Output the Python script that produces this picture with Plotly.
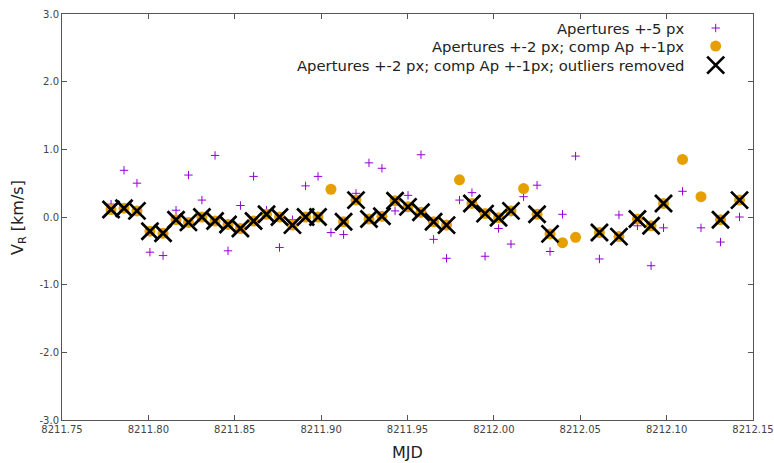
import plotly.graph_objects as go

# Observation times (MJD)
mjd = [8211.7784, 8211.7859, 8211.7934, 8211.8009, 8211.8085, 8211.8160, 8211.8232,
       8211.8310, 8211.8386, 8211.8461, 8211.8533, 8211.8609, 8211.8684, 8211.8759,
       8211.8834, 8211.8910, 8211.8982, 8211.9057, 8211.9130, 8211.9202, 8211.9277,
       8211.9352, 8211.9428, 8211.9503, 8211.9578, 8211.9651, 8211.9726, 8211.9801,
       8211.9873, 8211.9949, 8212.0027, 8212.0099, 8212.0172, 8212.0250, 8212.0325,
       8212.0397, 8212.0473, 8212.0611, 8212.0724, 8212.0831, 8212.0910, 8212.0982,
       8212.1092, 8212.1199, 8212.1312, 8212.1422]

# Apertures +-5 px
v_ap5 = [0.19, 0.69, 0.50, -0.52, -0.57, 0.10, 0.62, 0.25, 0.91, -0.50,
         0.17, 0.60, 0.10, -0.45, -0.04, 0.46, 0.60, -0.23, -0.26, 0.35,
         0.80, 0.72, 0.09, 0.32, 0.92, -0.33, -0.61, 0.25, 0.36, -0.58,
         -0.17, -0.40, 0.30, 0.47, -0.51, 0.04, 0.90, -0.62, 0.03, -0.13,
         -0.72, -0.16, 0.38, -0.16, -0.37, 0.00]

# Apertures +-2 px; comp Ap +-1px
v_ap2 = [0.11, 0.13, 0.09, -0.21, -0.24, -0.04, -0.08, 0.00, -0.06, -0.11,
         -0.17, -0.06, 0.04, 0.00, -0.12, 0.00, 0.00, 0.41, -0.07, 0.25,
         -0.03, 0.01, 0.24, 0.15, 0.07, -0.07, -0.12, 0.55, 0.20, 0.05,
         -0.01, 0.09, 0.42, 0.04, -0.25, -0.38, -0.30, -0.23, -0.29, -0.03,
         -0.13, 0.20, 0.85, 0.30, -0.04, 0.25]

# indices of outliers removed in the third series
outlier_idx = [17, 27, 32, 35, 36, 42, 43]

mjd_clean = [t for i, t in enumerate(mjd) if i not in outlier_idx]
v_clean = [v for i, v in enumerate(v_ap2) if i not in outlier_idx]

legend_names = ["Apertures +-5 px",
                "Apertures +-2 px; comp Ap +-1px",
                "Apertures +-2 px; comp Ap +-1px; outliers removed"]

x_ticks = [8211.75, 8211.80, 8211.85, 8211.90, 8211.95, 8212.00, 8212.05, 8212.10, 8212.15]
y_ticks = [-3.0, -2.0, -1.0, 0.0, 1.0, 2.0, 3.0]

PURPLE = "#9400d3"
GOLD = "#e69f00"
FONT = "DejaVu Sans"

sty = [
    dict(symbol="cross-thin", size=6, color=PURPLE, line=dict(color=PURPLE, width=1)),
    dict(symbol="circle", size=11, color=GOLD, line=dict(width=0)),
    dict(symbol="x-thin", size=17, color="black", line=dict(color="black", width=2.7)),
]

fig = go.Figure()
fig.add_trace(go.Scatter(x=mjd, y=v_ap5, mode="markers", marker=sty[0], name=legend_names[0]))
fig.add_trace(go.Scatter(x=mjd, y=v_ap2, mode="markers", marker=sty[1], name=legend_names[1]))
fig.add_trace(go.Scatter(x=mjd_clean, y=v_clean, mode="markers", marker=sty[2], name=legend_names[2]))

# Legend (gnuplot style: text right-aligned, symbol on the right)
leg_y = [0.9655, 0.921, 0.874]
leg_sym_x = 0.946
for i, name in enumerate(legend_names):
    fig.add_trace(go.Scatter(x=[leg_sym_x], y=[leg_y[i]], xaxis="x2", yaxis="y2",
                             mode="markers", marker=sty[i], showlegend=False,
                             hoverinfo="skip"))
    fig.add_annotation(x=0.903, y=leg_y[i], xref="x2", yref="y2", text=name,
                       showarrow=False, xanchor="right", yanchor="middle",
                       font=dict(family=FONT, size=14.8, color="#222"))

# Axis titles
fig.add_annotation(x=0.5, y=-0.079, xref="paper", yref="paper", text="MJD",
                   showarrow=False, xanchor="center", yanchor="middle",
                   font=dict(family=FONT, size=16, color="#222"))
fig.add_annotation(x=-0.0637, y=0.5, xref="paper", yref="paper",
                   text="V<sub>R</sub> [km/s]", textangle=-90,
                   showarrow=False, xanchor="center", yanchor="middle",
                   font=dict(family=FONT, size=16, color="#222"))

axis_common = dict(showgrid=False, zeroline=False, showline=True, linecolor="#555",
                   linewidth=1, mirror="ticks", ticks="inside", ticklen=5,
                   tickcolor="#555", automargin=False,
                   tickfont=dict(family=FONT, size=10, color="#444"))

fig.update_layout(
    width=774, height=463,
    margin=dict(l=62, r=21, t=14, b=43, autoexpand=False),
    paper_bgcolor="white", plot_bgcolor="white",
    showlegend=False,
    xaxis=dict(range=[8211.75, 8212.15], tickvals=x_ticks,
               ticktext=[f"{v:.2f}" for v in x_ticks], **axis_common),
    yaxis=dict(range=[-3.0, 3.0], tickvals=y_ticks,
               ticktext=[f"{v:.1f}" for v in y_ticks], **axis_common),
    xaxis2=dict(range=[0, 1], overlaying="x", visible=False, fixedrange=True),
    yaxis2=dict(range=[0, 1], overlaying="y", visible=False, fixedrange=True),
)

fig.write_html("out.html")
